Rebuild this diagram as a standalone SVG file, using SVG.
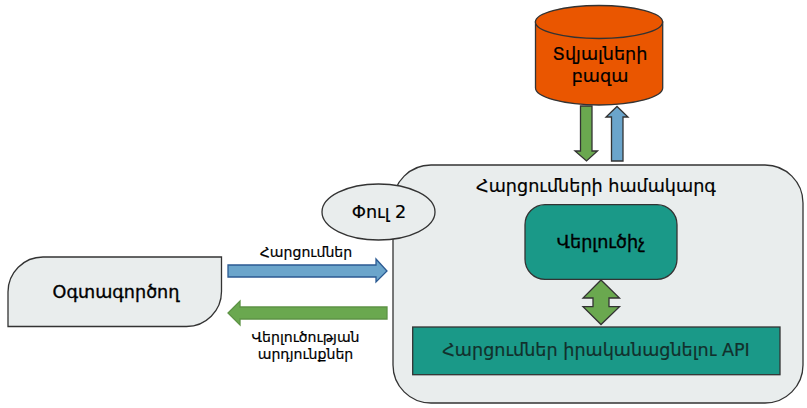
<svg xmlns="http://www.w3.org/2000/svg" width="807" height="408" viewBox="0 0 807 408">
<style>
text{font-family:"DejaVu Sans","Noto Sans",sans-serif;fill:#000;stroke:#000;stroke-width:.2;text-anchor:middle;font-size:17.600px}
.b{stroke-width:.35}
.s{stroke:#333;stroke-width:1.300}
.g{fill:#e9eded}
.t{fill:#1a9988}
.gr{fill:#6aa84f}
.bl{fill:#6ba5cb}
#labels text{font-size:14.100px}
</style>
<rect width="807" height="408" fill="#fff"/>
<g id="system"><rect class="s g" x="393" y="165" width="410" height="238" rx="38"/>
<text x="596" y="192">Հարցումների համակարգ</text></g>
<g id="phase"><ellipse class="s g" cx="378.500" cy="212" rx="56.500" ry="28"/>
<text x="379" y="218">Փուլ 2</text></g>
<g id="user"><path class="s g" d="M8 326.500V292A35 35 0 0 1 43 257H221.500V291.500A35 35 0 0 1 186.500 326.500Z"/>
<text class="b" x="116" y="297.500">Օգտագործող</text></g>
<g id="db"><path class="s" fill="#ea5600" d="M535.500 22V88C535.500 97 564 105 599 105S662.700 97 662.700 88V22Z"/>
<ellipse class="s" fill="#ea5600" cx="599" cy="22" rx="63.600" ry="16.500"/>
<text x="600" y="60">Տվյալների</text><text x="600" y="82">բազա</text></g>
<g id="analyzer"><rect class="s t" x="525" y="204.700" width="152" height="74.600" rx="20"/>
<text class="b" x="601" y="248">Վերլուծիչ</text></g>
<g id="api"><rect class="s t" x="412.700" y="327" width="367.300" height="47.700"/>
<text x="596" y="356" style="fill:#12302c;stroke:#12302c">Հարցումներ իրականացնելու API</text></g>
<g id="connectors">
<path fill="#6ba5cb" stroke="#2b5a92" stroke-width="1.300" d="M228 265H376V259L387 271L376 282V277H228Z"/>
<path fill="#6aa84f" stroke="#5d9345" stroke-width="1.300" d="M387 307H240V301L228 313L240 325V319H387Z"/>
<path class="s gr" d="M580.500 106H592V151H597.500L586.500 161L575 151H580.500Z"/>
<path class="s bl" d="M611.500 161V117H606L617 106.500L628 117H623V161Z"/>
<path class="s gr" d="M601 280L619.500 298H609V306.700H619.500L601 324.500L583 306.700H593V298H583Z"/>
</g>
<g id="labels">
<text x="306" y="257">Հարցումներ</text>
<text x="305.500" y="341.500">Վերլուծության</text>
<text x="305.500" y="359">արդյունքներ</text>
</g>
</svg>
